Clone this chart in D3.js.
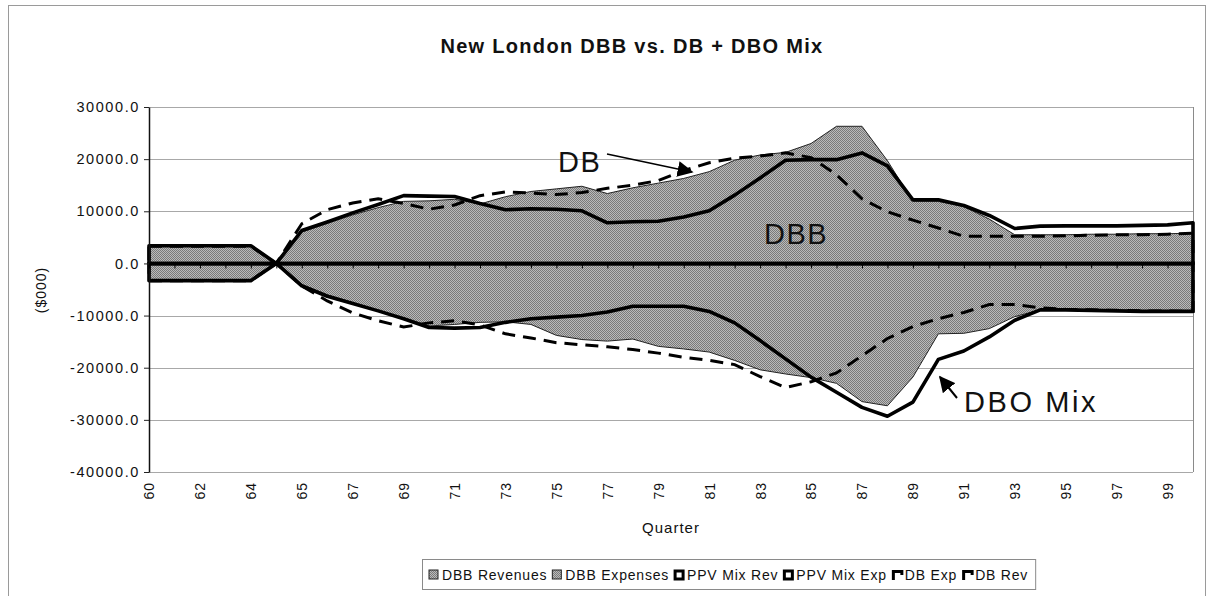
<!DOCTYPE html>
<meta charset="utf-8">
<style>
body { margin: 0; background: #fff; }
text { font-family: "Liberation Sans", Arial, sans-serif; fill: #111; }
.grid line { stroke: #a8a8a8; stroke-width: 1; }
.yaxis text { font-size: 14.5px; letter-spacing: 1.6px; }
.yaxis line { stroke: #222; }
.yaxis path { stroke: #111; stroke-width: 1.5; }
.xlabels text { font-size: 14px; letter-spacing: 1px; }
.xlabels path, .xlabels line { display: none; }
.zero path { stroke: #000; stroke-width: 3.2; }
.zero line { stroke: #000; stroke-width: 1; }
.legend text { font-size: 14px; letter-spacing: 0.8px; }
.note { font-size: 29px; letter-spacing: 1.5px; }
</style>
<svg width="1212" height="596"></svg>
<script src="https://d3js.org/d3.v7.min.js"></script>
<script>

var quarters = ["60","61","62","63","64","64.5","65","66","67","68","69","70","71","72","73","74",
  "75","76","77","78","79","80","81","82","83","84","85","86","87","88","89","90","91","92",
  "93","94","95","96","97","98","99","100"];

var dbbRevenues = [3300,3300,3300,3300,3300,0,6000,7700,9300,10700,11900,12000,12300,11400,12800,13800,
  14300,14800,13400,14500,15400,16300,17600,19800,20800,21300,23000,26300,26300,19700,11900,11900,
  10900,8500,5500,5500,5500,5600,5600,5700,5700,5800];

var dbbExpenses = [-3300,-3300,-3300,-3300,-3300,0,-4000,-6000,-7500,-9000,-10500,-12000,-11700,-11300,
  -11200,-11700,-13800,-14600,-14900,-14500,-15900,-16400,-17000,-18600,-20400,-21200,-21900,-23000,
  -26500,-27300,-21800,-13500,-13400,-12500,-10200,-8900,-9000,-9100,-9100,-9200,-9200,-9200];

var ppvMixRev = [3400,3400,3400,3400,3400,0,6300,7950,9700,11300,13000,12900,12850,11500,10300,10500,
  10400,10100,7800,8000,8100,8900,10100,13100,16400,19800,19900,19900,21200,18700,12200,12200,
  11100,9200,6700,7150,7200,7200,7200,7300,7400,7800];

var ppvMixExp = [-3300,-3300,-3300,-3300,-3300,0,-4300,-6300,-7700,-9100,-10600,-12300,-12400,-12300,
  -11300,-10600,-10300,-10000,-9300,-8200,-8200,-8200,-9200,-11400,-14800,-18300,-21800,-24700,
  -27600,-29300,-26600,-18400,-16800,-14100,-10900,-8900,-8900,-9000,-9100,-9200,-9200,-9200];

var dbExp = [-3300,-3300,-3300,-3300,-3300,0,-4300,-7200,-9500,-11000,-12200,-11400,-11000,-11800,
  -13500,-14300,-15200,-15600,-16000,-16500,-17200,-18000,-18600,-19400,-21700,-23800,-22700,-21000,
  -17700,-14400,-12100,-10600,-9400,-7900,-7900,-8500,-8800,-8900,-9000,-9100,-9100,-9200];

var dbRev = [3300,3300,3300,3300,3300,0,7600,10300,11600,12400,11500,10400,11200,13000,13700,13500,
  13200,13600,14400,15000,15900,17800,19300,20200,20600,21200,20300,17000,12400,9900,8300,6800,
  5200,5200,5200,5200,5300,5400,5500,5500,5600,5800];

var yTicks = [-40000,-30000,-20000,-10000,0,10000,20000,30000];

var legendNames = ["DBB Revenues", "DBB Expenses", "PPV Mix Rev", "PPV Mix Exp", "DB Exp", "DB Rev"];

var svg = d3.select("svg");

var plotL = 149, plotR = 1193, plotT = 107, plotB = 472;

var x = d3.scalePoint().domain(quarters).range([plotL, plotR]);
var y = d3.scaleLinear().domain([-40000, 30000]).range([plotB, plotT]);

var fmt = d3.formatLocale({decimal: ".", thousands: ",", grouping: [3], currency: ["$", ""], minus: "-"}).format(".1f");

// stipple used by the two DBB areas
var defs = svg.append("defs");
var pat = defs.append("pattern").attr("id", "stip").attr("width", 2).attr("height", 2)
    .attr("patternUnits", "userSpaceOnUse");
pat.append("rect").attr("width", 2).attr("height", 2).attr("fill", "#bababa");
pat.append("rect").attr("width", 1).attr("height", 1).attr("fill", "#7a7a7a");
pat.append("rect").attr("x", 1).attr("y", 1).attr("width", 1).attr("height", 1).attr("fill", "#7a7a7a");

defs.append("marker").attr("id", "head").attr("viewBox", "0 0 10 10")
    .attr("refX", 9).attr("refY", 5).attr("markerWidth", 16).attr("markerHeight", 16)
    .attr("markerUnits", "userSpaceOnUse").attr("orient", "auto")
  .append("path").attr("d", "M0,0L10,5L0,10z").attr("fill", "#000");

// chart border
svg.append("rect").attr("x", 8.5).attr("y", 5.5).attr("width", 1197).attr("height", 620)
    .attr("fill", "none").attr("stroke", "#9a9a9a");

svg.append("text").attr("x", 632).attr("y", 53).attr("text-anchor", "middle")
    .style("font-size", "20px").style("font-weight", "bold").style("letter-spacing", "1.3px")
    .text("New London DBB vs. DB + DBO Mix");

// gridlines + plot frame
svg.append("g").attr("class", "grid").selectAll("line").data(yTicks).enter().append("line")
    .attr("x1", plotL).attr("x2", plotR)
    .attr("y1", function(d) { return Math.round(y(d)) + 0.5; })
    .attr("y2", function(d) { return Math.round(y(d)) + 0.5; });
svg.append("line").attr("x1", plotR + 0.5).attr("x2", plotR + 0.5).attr("y1", plotT).attr("y2", plotB)
    .attr("stroke", "#8a8a8a");

function areaPath(vals) {
  return d3.area()
      .x(function(d, i) { return x(quarters[i]); })
      .y0(y(0))
      .y1(function(d) { return y(d); })(vals);
}

// the two DBB areas
[dbbRevenues, dbbExpenses].forEach(function(s) {
  svg.append("path").attr("d", areaPath(s))
      .attr("fill", "url(#stip)").attr("stroke", "#222").attr("stroke-width", 1);
});

// PPV mix (solid) and DB (dashed) outlines
[ppvMixRev, ppvMixExp].forEach(function(s) {
  svg.append("path").attr("d", areaPath(s))
      .attr("fill", "none").attr("stroke", "#000").attr("stroke-width", 3.6)
      .attr("stroke-linejoin", "round");
});
[dbExp, dbRev].forEach(function(s) {
  svg.append("path").attr("d", areaPath(s))
      .attr("fill", "none").attr("stroke", "#000").attr("stroke-width", 3)
      .attr("stroke-dasharray", "13,8");
});

// y axis
svg.append("g").attr("class", "yaxis").attr("transform", "translate(" + plotL + ",0)")
    .call(d3.axisLeft(y).tickValues(yTicks).tickFormat(fmt).tickSize(5).tickSizeOuter(0).tickPadding(4));

svg.append("text").attr("transform", "translate(46,290) rotate(-90)").attr("text-anchor", "middle")
    .style("font-size", "14px").style("letter-spacing", "1px").text("($000)");

// category axis at zero
svg.append("g").attr("class", "zero").attr("transform", "translate(0," + y(0) + ")")
    .call(d3.axisBottom(x).tickSize(5).tickSizeOuter(0).tickFormat(""));

// category labels below the plot
var xl = svg.append("g").attr("class", "xlabels").attr("transform", "translate(0," + plotB + ")")
    .call(d3.axisBottom(x).tickValues(quarters.filter(function(d, i) { return i % 2 === 0 && i < 41; }))
      .tickSize(0));
xl.selectAll("text").attr("transform", "rotate(-90)").attr("text-anchor", "end")
    .attr("x", -10).attr("y", 0).attr("dy", "0.35em");

svg.append("text").attr("x", (plotL + plotR) / 2).attr("y", 533).attr("text-anchor", "middle")
    .style("font-size", "15px").style("letter-spacing", "1px").text("Quarter");

// annotations
svg.append("text").attr("class", "note").attr("x", 558).attr("y", 172).text("DB");
svg.append("line").attr("x1", 607).attr("y1", 154).attr("x2", 692).attr("y2", 172)
    .attr("stroke", "#000").attr("stroke-width", 1.5).attr("marker-end", "url(#head)");
svg.append("text").attr("class", "note").attr("x", 764).attr("y", 244).text("DBB");
svg.append("text").attr("class", "note").attr("x", 964).attr("y", 412)
    .style("letter-spacing", "2.6px").text("DBO Mix");
svg.append("line").attr("x1", 957).attr("y1", 398).attr("x2", 940).attr("y2", 377)
    .attr("stroke", "#000").attr("stroke-width", 2).attr("marker-end", "url(#head)");

// legend, laid out left to right from measured text widths
var lg = svg.append("g").attr("class", "legend");
var box = lg.append("rect").attr("y", 559.5).attr("height", 30)
    .attr("fill", "#fff").attr("stroke", "#8a8a8a");
var cx = 429, gy = 570;
legendNames.forEach(function(n, i) {
  var gx = cx;
  if (i < 2) {
    lg.append("rect").attr("x", gx).attr("y", gy).attr("width", 9).attr("height", 9)
        .attr("fill", "url(#stip)").attr("stroke", "#222");
  } else if (i < 4) {
    lg.append("rect").attr("x", gx + 1).attr("y", gy + 1).attr("width", 8).attr("height", 8)
        .attr("fill", "#fff").attr("stroke", "#000").attr("stroke-width", 3);
  } else {
    lg.append("path").attr("d", "M" + (gx + 1.5) + "," + (gy + 10) + "V" + (gy + 1.5) + "H" + (gx + 10) + "V" + (gy + 5))
        .attr("fill", "none").attr("stroke", "#000").attr("stroke-width", 3);
  }
  var t = lg.append("text").attr("x", gx + 13).attr("y", gy + 9.5).text(n);
  cx = gx + 13 + t.node().getComputedTextLength() + 5;
});
box.attr("x", 422.5).attr("width", cx - 422 + 2);

</script>
